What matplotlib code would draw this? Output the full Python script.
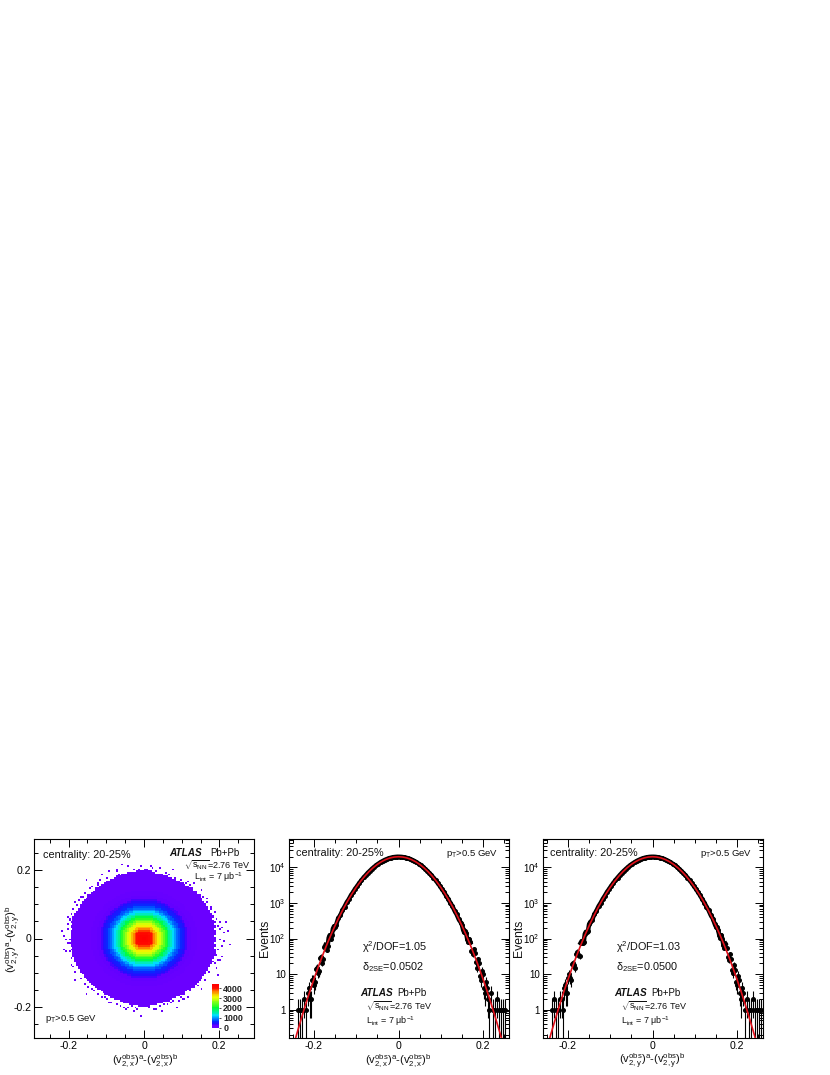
"""
ATLAS v2 observed differences: 2D map and two projections
"""

import numpy as np
import matplotlib
matplotlib.use("Agg")
import matplotlib.pyplot as plt
from matplotlib.colors import LinearSegmentedColormap

# Values

# 2D map: solid outline row by row (top row first), cell size 0.005
row_y_top = 0.1975
row_left = [-.020, -.045, -.060, -.075, -.080, -.090, -.100, -.105, -.115, -.120,
            -.130, -.130, -.135, -.140, -.150, -.150, -.155, -.160, -.165, -.165,
            -.170, -.170, -.175, -.175, -.180, -.185, -.185, -.190, -.190, -.190,
            -.195, -.190, -.195, -.195, -.190, -.195, -.195, -.195, -.195, -.195,
            -.200, -.195, -.195, -.195, -.195, -.190, -.195, -.190, -.190, -.190,
            -.190, -.185, -.185, -.185, -.180, -.180, -.175, -.175, -.170, -.170,
            -.165, -.160, -.160, -.155, -.150, -.145, -.140, -.135, -.130, -.125,
            -.115, -.110, -.105, -.095, -.090, -.080, -.065, -.055, -.040, -.015]
row_right = [.015, .030, .050, .065, .075, .085, .095, .105, .110, .120,
             .125, .130, .135, .140, .145, .150, .155, .155, .160, .165,
             .165, .170, .170, .175, .175, .180, .180, .185, .180, .185,
             .190, .185, .190, .190, .185, .190, .190, .190, .185, .190,
             .190, .190, .185, .190, .190, .185, .190, .190, .185, .190,
             .185, .185, .180, .185, .180, .175, .175, .170, .170, .165,
             .165, .160, .155, .155, .150, .145, .140, .135, .130, .125,
             .115, .110, .105, .095, .085, .075, .070, .050, .035, .015]

# lone cells outside the solid outline
stray_x = [-.057, -.045, -.152, -.114, -.092, -.185, -.199, -.215, -.030, -.008, .008,
           .017, .075, .115, .152, .187, .218, .200, .214, .214, .189, .205, .168, .190,
           .049, .014, .089, .116, .142, -.212, -.181, -.151, -.092, -.008, -.048, -.199,
           -.177, -.125, -.165, -.205, -.138, -.075, .045, .130, .165, .178, .208, .222,
           .197, .152, .105, .028, -.028, -.105, -.160, -.192, -.208, .210, -.218, .225,
           -.072, -.067, -.097, -.118, -.122, -.138, -.143, -.158, -.163, -.172, -.177,
           -.188, -.193, -.198, -.203, -.203, -.208, -.203, -.198, -.193, -.188, -.183,
           -.168, -.158, -.148, -.133, -.123, -.113, -.098, -.088, -.072, -.062, -.042,
           -.022, .003, .023, .033, .058, .068, .083, .098, .112, .122, .127, .138, .148,
           .158, .168, .178, .183, .193, .198, .203, .203, .208, .198, .193, .198, .188,
           .173, .163, .143, .133, .123, .108, .098, .078, .062, .042, .032, .012, .053,
           .072, .092, .103, .018, -.012, -.018, -.032, -.052]
stray_y = [.220, .214, .171, .188, .197, .109, .051, .007, .202, .211, .205,
           .214, .202, .168, .144, .076, .047, .047, .018, -.006, -.041, -.065, -.091, -.085,
           -.214, -.203, -.203, -.170, -.138, -.031, -.123, -.164, -.188, -.226, -.206, -.012,
           -.062, .160, .120, .062, -.150, .203, .207, .160, .118, .093, .030, .022,
           -.110, -.148, -.178, -.208, -.212, -.172, -.112, -.078, -.040, -.052, .020, -.018,
           .198, .188, .178, .173, .158, .152, .147, .132, .122, .113, .098,
           .088, .073, .058, .043, .028, -.003, -.012, -.038, -.058, -.083, -.098,
           -.118, -.133, -.143, -.153, -.163, -.173, -.178, -.188, -.193, -.198, -.202,
           -.203, .203, .208, .198, .193, .188, .178, .172, .163, .158, .147, .138, .128,
           .122, .108, .088, .068, .058, .038, .028, -.003, -.022, -.033, -.048, -.062, -.072,
           -.098, -.123, -.128, -.143, -.153, -.163, -.173, -.183, -.193, -.198, -.208, -.198, -.192,
           -.188, -.183, -.178, .198, .203, -.207, -.198, -.202]

# counts against radius
radius_step = 0.005
radius_counts = [4400, 4378, 4313, 4200, 4064, 3891, 3681, 3450, 3203, 2945, 2680,
                 2413, 2154, 1900, 1665, 1441, 1236, 1050, 882, 736, 605, 494, 399,
                 318, 253, 197, 154, 118, 90, 68, 51, 38, 27, 20, 14, 10, 7, 5, 3, 3,
                 2, 2, 2, 2, 2, 2, 2, 2]
cbar_ticks = [0, 1000, 2000, 3000, 4000]

# projections: bin centres from -0.2475 in steps of 0.005
bin_centres = np.arange(102) * 0.005 - 0.2475
counts_x = [0, 0, 1, 1, 1, 2, 1, 4, 2, 7, 6, 15, 12, 31, 27, 66, 62, 125, 125, 220,
            240, 375, 450, 628, 790, 1035, 1272, 1641, 2010, 2512, 3005, 3690, 4352,
            5231, 6033, 7085, 8049, 9233, 10340, 11612, 12745, 14010, 15088, 16255,
            17176, 18132, 18801, 19420, 19755, 20010,
            19960, 19800, 19365, 18860, 18070, 17240, 16190, 15150, 13950, 12810, 11550,
            10400, 9175, 8110, 7030, 6085, 5180, 4405, 3650, 3050, 2470, 2045, 1605,
            1305, 1005, 815, 605,
            475, 345, 280, 180, 160, 95, 95, 45, 52, 22, 26, 9, 12, 4, 6, 2, 3, 1, 1,
            2, 1, 1, 1, 1, 0]
counts_y = [0, 0, 1, 2, 1, 1, 2, 1, 5, 3, 10, 7, 21, 15, 43, 33, 85, 80, 155, 160,
            285, 335, 480, 608, 810, 1008, 1302, 1611, 2040, 2475, 3040, 3660,
            4390, 5190, 6075, 7050, 8095, 9180, 10390, 11560, 12800, 13965, 15140,
            16200, 17230, 18085, 18845, 19370, 19790, 19960,
            19980, 19805, 19375, 18850, 18090, 17225, 16205, 15135, 13960, 12795, 11570,
            10380, 9190, 8095, 7050, 6070, 5195, 4370, 3680, 3020, 2500, 2020, 1630,
            1280, 1030, 790, 625,
            460, 365, 250, 205, 130, 125, 66, 72, 30, 36, 13, 18, 6, 9, 3, 4, 1, 2, 1,
            1, 2, 1, 1, 1, 1]

# tail points in between, where the bins run denser
tail_x = [-.215, -.21, -.205, -.20, -.195, -.19, -.185, -.18, -.175, -.17, -.165, -.16, -.155, -.15,
          .15, .155, .16, .165, .17, .175, .18, .185, .19, .195, .20, .205, .21, .215]
tail_counts_x = [3, 2, 7, 5, 14, 11, 29, 21, 58, 49, 105, 100, 190, 215,
                 245, 150, 140, 80, 78, 36, 40, 15, 21, 7, 10, 3, 4, 1]
tail_counts_y = [2, 4, 3, 8, 8, 19, 18, 37, 34, 75, 75, 135, 155, 250,
                 215, 175, 105, 100, 55, 54, 25, 26, 11, 13, 5, 7, 2, 3]

# fitted curves
fit_x = [-.245, -.24, -.23, -.22, -.21, -.20, -.19, -.18, -.17, -.16, -.15, -.14, -.13,
         -.12, -.11, -.10, -.09, -.08, -.07, -.06, -.05, -.04, -.03, -.02, -.01, 0,
         .01, .02, .03, .04, .05, .06, .07, .08, .09, .10, .11, .12, .13, .14, .15,
         .16, .17, .18, .19, .20, .21, .22, .23, .24, .245]
fit_counts_x = [.134, .217, .55, 1.35, 3.17, 7.15, 15.5, 32.3, 64.9, 124.6, 230, 409, 700,
                1149, 1813, 2750, 4010, 5620, 7570, 9790, 12180, 14560, 16730, 18470, 19600,
                20000, 19600, 18470, 16730, 14560, 12180, 9790, 7570, 5620, 4010, 2750, 1813,
                1149, 700, 409, 230, 124.6, 64.9, 32.3, 15.5, 7.15, 3.17, 1.35, .55, .217, .134]
fit_counts_y = [.130, .210, .53, 1.30, 3.08, 6.95, 15.1, 31.6, 63.6, 122.5, 226, 403, 692,
                1138, 1800, 2735, 3990, 5600, 7550, 9770, 12160, 14540, 16710, 18450, 19590,
                20000, 19590, 18450, 16710, 14540, 12160, 9770, 7550, 5600, 3990, 2735, 1800,
                1138, 692, 403, 226, 122.5, 63.6, 31.6, 15.1, 6.95, 3.08, 1.30, .53, .210, .130]

log_ticks = [1, 10, 100, 1000, 10000]
log_labels = ["1", "10", r"$10^{2}$", r"$10^{3}$", r"$10^{4}$"]

# ROOT rainbow palette
palette = [(0.0, "#6a00ff"), (0.05, "#6200ff"), (0.07, "#2a08ff"), (0.14, "#0030ff"),
           (0.27, "#00e0ff"), (0.45, "#00ff30"), (0.70, "#f0ff00"), (0.84, "#ff8000"),
           (0.90, "#ff1000"), (1.0, "#ff0000")]

W, H = 830.0, 1075.0
plt.rcParams["font.family"] = ["Liberation Sans", "DejaVu Sans"]
plt.rcParams["mathtext.fontset"] = "custom"
plt.rcParams["mathtext.rm"] = "Liberation Sans"
plt.rcParams["mathtext.it"] = "Liberation Sans"
plt.rcParams["mathtext.bf"] = "Liberation Sans:bold"
plt.rcParams["mathtext.default"] = "rm"
plt.rcParams["axes.unicode_minus"] = False
plt.rcParams["axes.linewidth"] = 0.8


def add_axes_px(left, right, top, bottom):
    return plt.gcf().add_axes([left / W, 1 - bottom / H, (right - left) / W, (bottom - top) / H])


def text_px(x, y, s, **kwargs):
    kwargs.setdefault("fontsize", 7.4)
    kwargs.setdefault("va", "center")
    kwargs.setdefault("color", "#111111")
    plt.gcf().text(x / W, 1 - y / H, s, **kwargs)


def style_ticks(ax):
    ax.tick_params(which="major", direction="in", top=True, right=True, length=6, width=0.7,
                   labelsize=7.6, pad=2)
    ax.tick_params(which="minor", direction="in", top=True, right=True, length=3, width=0.7)
    ax.set_xticks([-0.2, 0, 0.2])
    ax.set_xticklabels(["-0.2", "0", "0.2"])
    ax.set_xticks(np.arange(-5, 6) * 0.05, minor=True)


def build_map():
    edges = np.arange(-50, 51) * 0.005
    counts = np.full((100, 100), np.nan)
    for i in range(len(row_left)):
        y = row_y_top - i * 0.005
        row = int(np.floor((y + 0.25) / 0.005))
        col_a = int(round((row_left[i] + 0.25) / 0.005))
        col_b = int(round((row_right[i] + 0.25) / 0.005))
        for col in range(col_a, col_b):
            x = edges[col] + 0.0025
            ring = int(round(np.hypot(x, y) / radius_step))
            counts[row, col] = radius_counts[ring]
    for x, y in zip(stray_x, stray_y):
        counts[int(np.floor((y + 0.25) / 0.005)), int(np.floor((x + 0.25) / 0.005))] = 1
    return edges, counts


def draw_map():
    ax = add_axes_px(34, 254, 839, 1038)
    edges, counts = build_map()
    cmap = LinearSegmentedColormap.from_list("root", palette, N=50)
    mesh = ax.pcolormesh(edges, edges, counts, cmap=cmap, vmin=0, vmax=4450, antialiased=True)
    ax.set_xlim(-0.292, 0.292)
    ax.set_ylim(-0.292, 0.292)
    style_ticks(ax)
    ax.set_yticks([-0.2, 0, 0.2])
    ax.set_yticklabels(["-0.2", "0", "0.2"])
    ax.set_yticks(np.arange(-5, 6) * 0.05, minor=True)

    cax = add_axes_px(212, 219, 984, 1027.5)
    cbar = plt.gcf().colorbar(mesh, cax=cax, ticks=cbar_ticks)
    cbar.outline.set_visible(False)
    cax.tick_params(length=1.5, width=0.5, labelsize=6.4, pad=1.5, direction="out")
    for lab in cax.get_yticklabels():
        lab.set_fontweight("bold")
        lab.set_color("#222222")

    text_px(43.3, 855, "centrality: 20-25%", fontsize=7.8)
    text_px(169, 852.7, "ATLAS", fontsize=7.2, fontweight="bold", style="italic")
    text_px(210, 852.7, "Pb+Pb", fontsize=7)
    text_px(184, 865, r"$\sqrt{s_{NN}}$=2.76 TeV", fontsize=6.5)
    text_px(194, 876.7, r"$L_{int}$ = 7 $\mu$b$^{-1}$", fontsize=6.5)
    text_px(45, 1019, r"$p_{T}$>0.5 GeV", fontsize=6.8)
    text_px(145, 1061, r"$(v_{2,x}^{obs})^{a}$-$(v_{2,x}^{obs})^{b}$", fontsize=8, ha="center")
    text_px(13, 939, r"$(v_{2,y}^{obs})^{a}$-$(v_{2,y}^{obs})^{b}$", fontsize=8.2, ha="center",
            rotation=90)


def draw_projection(left, counts, tail_counts, fit_counts, chi2, delta, axis_name):
    ax = add_axes_px(left, left + 220, 839, 1038)
    x = np.concatenate([bin_centres, tail_x])
    y = np.concatenate([np.array(counts, dtype=float), tail_counts])
    order = np.argsort(x)
    x = x[order]
    y = y[order]
    keep = y > 0
    x = x[keep]
    y = y[keep]
    err = np.sqrt(y)
    low = np.minimum(err, y - 0.01)
    ax.errorbar(x, y, yerr=[low, err], xerr=0.0025, fmt="o", color="black", ms=2.6, lw=0.8,
                capsize=0, zorder=2)
    # the dense points merge into one black band away from the tails
    ax.plot(x[y >= 60], y[y >= 60], color="black", lw=3.2, zorder=2)
    ax.plot(fit_x, fit_counts, color="#e0101a", lw=1.2, zorder=3)
    ax.set_yscale("log")
    ax.set_xlim(-0.26, 0.26)
    ax.set_ylim(0.16, 63000)
    style_ticks(ax)
    ax.set_yticks(log_ticks)
    ax.set_yticklabels(log_labels)
    ax.tick_params(axis="y", which="major", labelsize=7)

    zero = left + 110
    text_px(left + 7.5, 853, "centrality: 20-25%", fontsize=7.8)
    text_px(left + 157.5, 854, r"$p_{T}$>0.5 GeV", fontsize=6.8)
    text_px(left + 73.5, 947.3, r"$\chi^{2}$/DOF=" + chi2, fontsize=7.8)
    text_px(left + 73.5, 966.7, r"$\delta_{2SE}$=" + delta, fontsize=7.8)
    text_px(left + 72, 992.7, "ATLAS", fontsize=7.2, fontweight="bold", style="italic")
    text_px(left + 109, 992.7, "Pb+Pb", fontsize=7)
    text_px(left + 78, 1006.7, r"$\sqrt{s_{NN}}$=2.76 TeV", fontsize=6.5)
    text_px(left + 78, 1021, r"$L_{int}$ = 7 $\mu$b$^{-1}$", fontsize=6.5)
    text_px(zero, 1061, r"$(v_{2,%s}^{obs})^{a}$-$(v_{2,%s}^{obs})^{b}$" % (axis_name, axis_name),
            fontsize=8, ha="center")
    text_px(left - 24, 938, "Events", fontsize=8.8, ha="center", rotation=90)


def main():
    plt.figure(figsize=(W / 100, H / 100), dpi=100)
    draw_map()
    draw_projection(288.5, counts_x, tail_counts_x, fit_counts_x, "1.05", "0.0502", "x")
    draw_projection(542.5, counts_y, tail_counts_y, fit_counts_y, "1.03", "0.0500", "y")
    plt.savefig("out.png", dpi=100)


if __name__ == "__main__":
    main()
